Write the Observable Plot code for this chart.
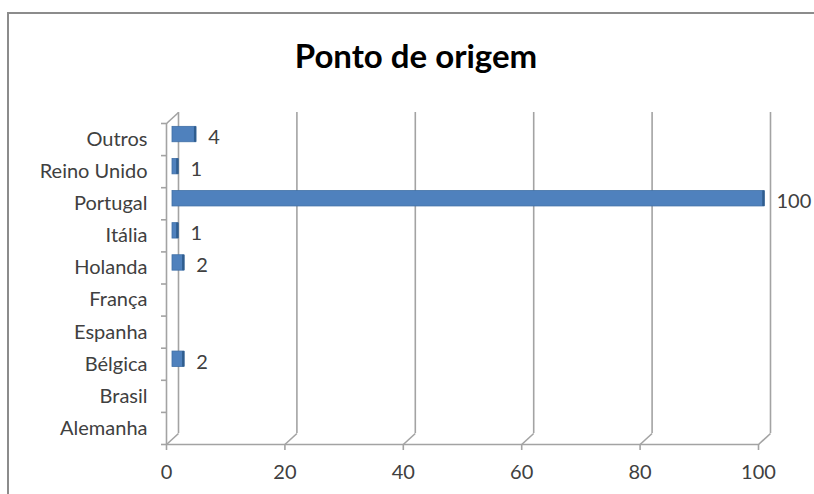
<!DOCTYPE html>
<html><head><meta charset="utf-8">
<script src="https://cdn.jsdelivr.net/npm/d3@7"></script>
<script src="https://cdn.jsdelivr.net/npm/@observablehq/plot@0.6"></script>
<style>
body{margin:0;background:#fff;overflow:hidden;font-family:Lato,sans-serif}
#frame{position:absolute;left:7px;top:12px;width:900px;height:600px;border-left:2px solid #8c8c8c;border-top:2px solid #8c8c8c}
#title{position:absolute;left:0;width:832px;top:39px;text-align:center;font:bold 33px Lato,sans-serif;line-height:33px;color:#000}
#chart{position:absolute;left:0;top:0}
</style></head><body>
<div id="frame"></div><div id="chart"></div><div id="title"></div>
<script>
const title = "Ponto de origem";
const categories = ["Outros","Reino Unido","Portugal","Itália","Holanda","França","Espanha","Bélgica","Brasil","Alemanha"];
const values = [4, 1, 100, 1, 2, 0, 0, 2, 0, 0];
const xTicks = [0, 20, 40, 60, 80, 100];

const W = 814, H = 494, mL = 166, mR = 56, mT = 123, mB = 50;
const n = categories.length;
const pxPerX = (W - mL - mR) / 100, pxPerY = (H - mT - mB) / n;
const depth = 12, depthV = 11;
const dX = depth / pxPerX, dY = depthV / pxPerY;
const rows = categories.map((c, i) => ({c, v: values[i], pos: n - 1 - i + 0.5}));
const shown = rows.filter(d => d.v > 0);
const grey = "#a3a3a3";

document.getElementById("title").textContent = title;

const chart = Plot.plot({
  width: W, height: H,
  marginLeft: mL, marginRight: mR, marginTop: mT, marginBottom: mB,
  style: {fontFamily: "Lato, sans-serif", fontSize: "20px", background: "transparent"},
  x: {domain: [0, 100], label: null},
  y: {domain: [0, n], label: null},
  marks: [
    Plot.ruleX(xTicks, {x: d => d, y1: 0, y2: n, dx: depth, dy: -depthV, stroke: grey, strokeWidth: 1.6}),
    Plot.link(xTicks, {x1: d => d, y1: 0, x2: d => d + dX, y2: dY, stroke: grey, strokeWidth: 1.6}),
    Plot.link([0], {x1: 0, y1: n, x2: dX, y2: n + dY, stroke: grey, strokeWidth: 1.6}),
    Plot.ruleX([0], {y1: 0, y2: n, stroke: grey, strokeWidth: 1.6}),
    Plot.ruleY([0], {x1: 0, x2: 100, stroke: grey, strokeWidth: 1.6}),
    Plot.axisY(d3.range(0, n + 1), {tickSize: 5, tickFormat: () => "", label: null, stroke: grey, strokeWidth: 1.6}),
    Plot.axisY(rows.map(d => d.pos), {tickSize: 0, tickPadding: 19, label: null, tickFormat: p => categories[n - 1 - Math.floor(p)], fill: "#404040", fontSize: 20}),
    Plot.axisX(xTicks, {tickSize: 6, tickPadding: 14, label: null, stroke: grey, strokeWidth: 1.6, fill: "#404040", fontSize: 20}),
    Plot.rectX(shown, {x1: 0, x2: "v", y1: d => d.pos - 0.24, y2: d => d.pos + 0.24, dx: 6, dy: -5, fill: "#4f81bd", stroke: "#3f6fa6", strokeWidth: 0.8}),
    Plot.ruleX(shown, {x: "v", y1: d => d.pos - 0.24, y2: d => d.pos + 0.24, dx: 5, dy: -5, stroke: "#2f5d8f", strokeWidth: 2.5}),
    Plot.text(shown, {x: "v", y: "pos", text: d => String(d.v), dx: 18, dy: -2, textAnchor: "start", fill: "#404040", fontSize: 20})
  ]
});
document.getElementById("chart").appendChild(chart);
</script>
</body></html>
